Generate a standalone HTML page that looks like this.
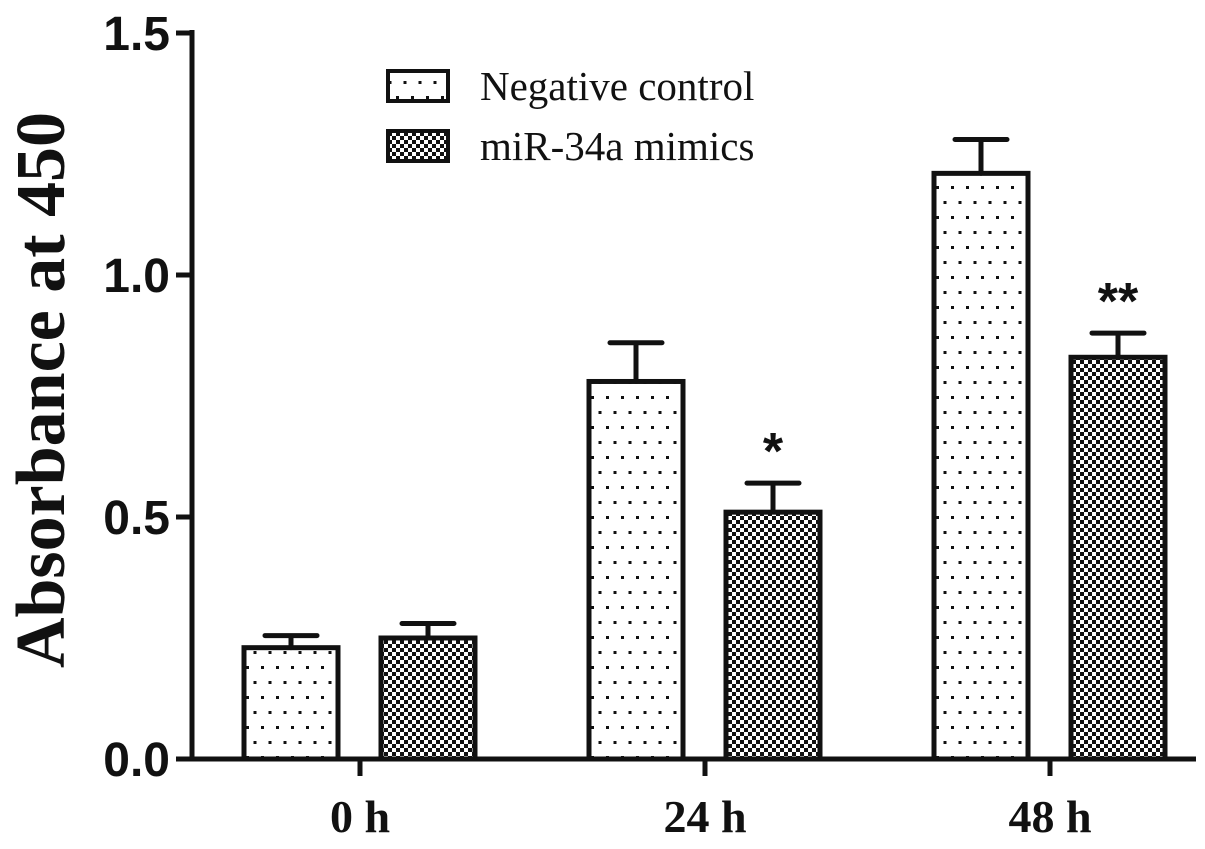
<!DOCTYPE html>
<html><head><meta charset="utf-8"><style>
body{margin:0;background:#fff}
svg{display:block}
text{font-family:"Liberation Serif",serif;font-weight:bold;fill:#111}
</style></head><body>
<svg id="c" width="1205" height="849">
<defs>
<pattern id="dots" width="15" height="30" patternUnits="userSpaceOnUse">
<rect x="6" y="6" width="3" height="3" fill="#111"/>
<rect x="13.5" y="21" width="3" height="3" fill="#111"/><rect x="-1.5" y="21" width="3" height="3" fill="#111"/>
</pattern>
<pattern id="check" width="8" height="8" patternUnits="userSpaceOnUse">
<rect width="8" height="8" fill="#fff"/>
<rect width="4" height="4" fill="#111"/><rect x="4" y="4" width="4" height="4" fill="#111"/>
</pattern>
</defs>
<g id="plot"></g>
</svg>
<script>
const categories=["0 h","24 h","48 h"];
const ncValues=[0.23,0.78,1.21];
const ncErrors=[0.025,0.08,0.07];
const mimicValues=[0.25,0.51,0.83];
const mimicErrors=[0.03,0.06,0.05];
const sigLabels=["","*","**"];
const yTicks=[0,0.5,1.0,1.5];
const yTickLabels=["0.0","0.5","1.0","1.5"];
const NS="http://www.w3.org/2000/svg";
const g=document.getElementById('plot');
const y=v=>759-v*484;
const gx=i=>360+i*345;
function el(t,a,txt){const e=document.createElementNS(NS,t);for(const k in a)e.setAttribute(k,a[k]);if(txt!==undefined)e.textContent=txt;g.appendChild(e);return e;}
let ax=el('line',{x1:192,y1:30,x2:192,y2:761,stroke:'#111','stroke-width':5});


let xa=el('line',{x1:190,y1:759,x2:1196,y2:759,stroke:'#111','stroke-width':5});


yTicks.forEach((t,i)=>{
 let l=el('line',{x1:176,y1:y(t),x2:192,y2:y(t),stroke:'#111','stroke-width':5});
 
 
 let tx=el('text',{x:170,y:y(t)+17,'text-anchor':'end','font-size':48,style:'font-family:"Liberation Sans",sans-serif'},yTickLabels[i]);
 
 
});
let yt=el('text',{transform:'translate(64,390) rotate(-90)','text-anchor':'middle','font-size':70},'Absorbance at 450');


function bar(cx,v,e,fill,name){
 const w=94,x=cx-w/2;
 let eb=el('path',{d:`M${cx} ${y(v)} V${y(v+e)} M${cx-26} ${y(v+e)} H${cx+26}`,stroke:'#111','stroke-width':5,fill:'none','stroke-linecap':'round'});
 
 
 let r=el('rect',{x:x,y:y(v),width:w,height:759-y(v),fill:fill,stroke:'#111','stroke-width':5});
 
 
}
categories.forEach((c,i)=>{
 const cx=gx(i);
 bar(cx-69,ncValues[i],ncErrors[i],'url(#dots)','bar-negative-control-'+i);
 bar(cx+68,mimicValues[i],mimicErrors[i],'url(#check)','bar-mimics-'+i);
 let t=el('line',{x1:cx,y1:759,x2:cx,y2:776,stroke:'#111','stroke-width':5});
 
 
 let lb=el('text',{x:cx,y:832,'text-anchor':'middle','font-size':46},c);
 
 
 if(sigLabels[i]){
  let s=el('text',{x:cx+68,y:y(mimicValues[i]+mimicErrors[i])-14,'text-anchor':'middle','font-size':52,style:'font-family:"Liberation Sans",sans-serif'},sigLabels[i]);
  
  
 }
});
[['url(#dots)','Negative control',71],['url(#check)','miR-34a mimics',131]].forEach((L,i)=>{
 let r=el('rect',{x:388,y:L[2],width:60,height:30,fill:L[0],stroke:'#111','stroke-width':4});
 
 
 let t=el('text',{x:480,y:L[2]+29,'font-size':41,style:'font-weight:normal'},L[1]);
 
 
});
</script>
</body></html>
